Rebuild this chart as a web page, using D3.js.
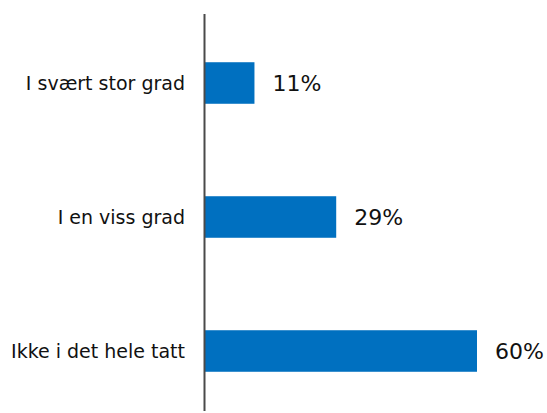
<!DOCTYPE html>
<html><head><meta charset="utf-8">
<script src="https://cdn.jsdelivr.net/npm/d3@7"></script>
<style>body{margin:0;background:#fff}svg{display:block}</style>
</head><body>
<svg id="c" width="547" height="413"></svg>
<script>
const categories = ["I svært stor grad", "I en viss grad", "Ikke i det hele tatt"];
const values = [11, 29, 60];
const labels = ["11%", "29%", "60%"];

const svg = d3.select("#c");
const x = d3.scaleLinear().domain([0, 60]).range([204.5, 477]);
const y = d3.scaleBand().domain(categories).range([16, 418]).paddingInner(0.69).paddingOuter(0.345);

svg.selectAll("rect.bar").data(values).enter().append("rect")
  .attr("class","bar")
  .attr("x", x(0))
  .attr("y", (d,i)=>y(categories[i]))
  .attr("width", d=>x(d)-x(0))
  .attr("height", y.bandwidth())
  .attr("fill", "#0070C0");

svg.append("line").attr("x1",204.5).attr("x2",204.5).attr("y1",14).attr("y2",411)
  .attr("stroke","#4a4a4a").attr("stroke-width",2);

svg.selectAll("text.cat").data(categories).enter().append("text")
  .attr("class","cat")
  .attr("x", 185).attr("y", d=>y(d)+y.bandwidth()/2)
  .attr("text-anchor","end").attr("dominant-baseline","central")
  .attr("font-family","'DejaVu Sans', sans-serif").attr("font-size",19)
  .attr("textLength", null)
  .attr("fill","#111").text(d=>d);

svg.selectAll("text.val").data(values).enter().append("text")
  .attr("class","val")
  .attr("x", d=>x(d)+18).attr("y", (d,i)=>y(categories[i])+y.bandwidth()/2)
  .attr("dominant-baseline","central")
  .attr("font-family","'DejaVu Sans', sans-serif").attr("font-size",22)
  .attr("fill","#111").text((d,i)=>labels[i]);
</script>
</body></html>
